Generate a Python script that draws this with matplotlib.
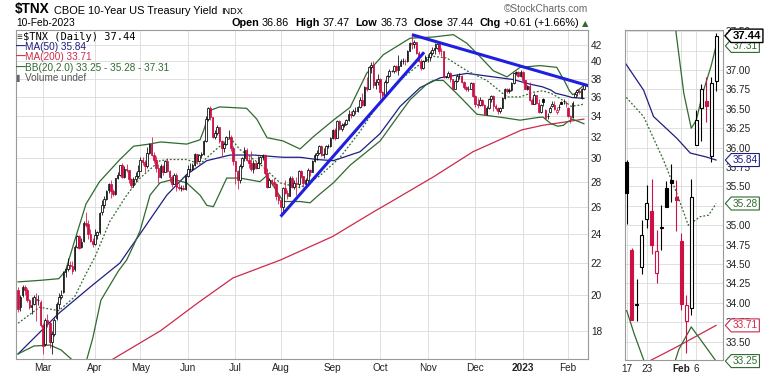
import numpy as np
import pandas as pd
import matplotlib
matplotlib.use("Agg")
import matplotlib.pyplot as plt
from matplotlib.path import Path
from matplotlib.ticker import NullLocator, NullFormatter

plt.rcParams['font.family'] = ['Liberation Sans', 'DejaVu Sans']

# trading calendar, $TNX daily, 11-Feb-2022 .. 10-Feb-2023
holidays = ['2022-02-21', '2022-04-15', '2022-05-30', '2022-06-20', '2022-07-04',
            '2022-09-05', '2022-11-24', '2022-12-26', '2023-01-02', '2023-01-16']
dates = pd.bdate_range('2022-02-11', '2023-02-10')
dates = dates[~dates.isin(pd.to_datetime(holidays))]

prev_close = 20.3  # close of 10-Feb-2022

opens = [
    20.3, 19.3, 20.0, 20.5, 20.3, 19.7, 19.3, 19.5, 19.8, 19.7, 19.6,
    18.3, 17.3, 18.6, 18.4, 17.4, 17.8, 18.7, 19.5, 19.9, 20.2, 21.4, 21.6, 21.9, 21.8, 21.6, 23.1, 23.8, 23.1, 23.5, 24.8, 24.7, 24.0, 23.5,
    23.3, 23.9, 24.1, 25.6, 26.1, 26.6, 27.3, 27.8, 27.2, 27.0, 28.3, 28.6, 29.4, 28.4, 29.1, 29.0, 28.2, 27.7, 28.2, 28.5,
    28.9, 29.9, 29.7, 29.3, 30.5, 31.3, 30.3, 29.9, 29.2, 28.4, 29.3, 28.8, 29.8, 28.9, 28.4, 27.8, 28.6, 27.6, 27.5, 27.5, 27.4,
    28.5, 29.1, 29.1, 29.4, 30.4, 29.8, 30.3, 30.4, 31.6, 33.7, 34.8, 33.9, 32.0, 32.3, 32.9, 31.6, 30.9, 31.3, 32.0, 32.0, 30.9,
    29.8, 28.9, 28.1, 29.3, 30.0, 30.8, 29.9, 29.6, 29.1, 29.6, 29.2, 29.6, 30.1, 30.3, 28.7, 27.6, 28.1, 28.0, 27.8, 26.8,
    26.5, 26.0, 27.5, 27.1, 26.8, 28.3, 27.6, 27.9, 27.8, 28.9, 28.5, 27.9, 28.1, 29.0, 28.8, 29.8, 30.3, 30.5, 31.1, 30.3, 30.4, 31.1, 31.1,
    31.9, 32.6, 31.9, 33.5, 32.7, 33.1, 33.2, 33.6, 34.2, 34.1, 34.5, 34.5, 34.9, 35.7, 35.1, 37.1, 36.9, 39.3, 39.6, 37.3, 37.6,
    38.0, 36.5, 36.2, 37.6, 38.3, 38.9, 38.9, 39.4, 39.0, 39.5, 40.1, 40.1, 40.0, 41.3, 42.3, 42.1, 42.4, 41.0, 40.1, 39.2, 40.1,
    40.5, 40.5, 41.0, 41.4, 41.6, 42.1, 41.3, 41.2, 38.2, 38.2, 38.7, 38.0, 36.9, 37.7, 38.3, 38.3, 37.6, 37.1, 36.8, 36.9, 37.5,
    36.1, 35.3, 35.1, 35.7, 35.1, 34.2, 34.8, 35.8, 36.1, 35.0, 34.8, 34.5, 34.8, 35.9, 36.9, 36.6, 36.7, 37.5, 38.6, 38.8, 38.3,
    38.8, 37.9, 36.9, 37.2, 35.7, 35.3, 36.2, 35.4, 34.4, 35.82, 34.68, 33.97, 34.46, 35.08, 35.18, 34.38, 34.96, 35.48, 35.58, 35.36,
    34.80, 33.76, 33.94, 36.03, 36.51, 36.60, 35.89, 36.86,
]
highs = [
    20.5, 20.0, 20.6, 20.6, 20.4, 19.8, 19.9, 20.0, 20.1, 20.0, 19.7,
    18.4, 18.7, 18.9, 18.5, 18.0, 18.7, 19.6, 20.1, 20.3, 21.5, 21.7, 22.3, 22.1, 22.1, 23.2, 23.9, 23.9, 23.7, 24.9, 25.6, 25.0, 24.3, 23.7,
    24.3, 24.2, 25.6, 26.5, 26.8, 27.3, 27.9, 28.1, 27.4, 28.3, 28.8, 29.4, 29.6, 29.3, 29.5, 29.0, 28.3, 28.4, 28.8, 29.4,
    30.1, 30.1, 29.9, 31.0, 31.4, 32.0, 30.6, 30.2, 29.5, 29.5, 29.4, 29.9, 30.0, 29.0, 28.6, 28.7, 28.7, 27.9, 27.7, 27.7, 28.6,
    29.4, 29.6, 29.6, 30.5, 30.4, 30.4, 30.6, 31.7, 34.0, 34.9, 35.0, 33.9, 32.6, 33.1, 32.9, 31.7, 31.5, 32.1, 32.6, 32.2, 31.1,
    29.8, 29.0, 29.5, 30.1, 31.0, 30.9, 30.1, 30.7, 29.9, 29.8, 30.2, 30.2, 30.4, 30.4, 29.2, 28.3, 28.2, 28.3, 27.9, 27.0,
    26.6, 27.6, 28.1, 27.3, 28.5, 28.5, 28.1, 28.4, 29.0, 29.0, 28.5, 28.3, 29.2, 29.1, 29.9, 30.5, 30.8, 31.2, 31.2, 30.9, 31.2, 31.3, 32.0,
    32.7, 32.8, 33.6, 33.6, 33.3, 33.4, 33.7, 34.6, 34.5, 34.7, 34.9, 35.0, 36.0, 36.4, 37.2, 38.2, 39.5, 39.9, 40.1, 38.0, 38.5,
    38.1, 36.6, 37.8, 38.4, 39.1, 39.0, 39.6, 39.6, 40.8, 40.3, 40.4, 40.3, 41.4, 42.4, 43.3, 42.6, 42.4, 41.2, 40.3, 40.2, 40.8,
    40.9, 41.2, 41.8, 42.2, 42.3, 42.2, 41.6, 41.2, 38.3, 38.9, 38.8, 38.0, 37.9, 38.5, 38.6, 38.4, 37.7, 37.2, 37.2, 37.6, 37.6,
    36.2, 35.9, 36.0, 35.8, 35.2, 35.0, 35.9, 36.2, 36.2, 35.2, 34.9, 34.9, 36.0, 37.0, 37.0, 37.0, 37.6, 38.7, 38.9, 38.9, 39.0,
    38.9, 37.9, 37.3, 37.6, 35.9, 36.4, 36.2, 35.8, 35.2, 35.84, 34.71, 34.31, 35.07, 35.52, 35.60, 34.94, 35.26, 35.57, 35.79, 35.58,
    34.90, 34.10, 35.59, 36.48, 36.82, 36.91, 36.91, 37.47,
]
lows = [
    19.0, 19.1, 19.9, 20.0, 19.6, 19.2, 18.9, 19.4, 18.5, 19.4, 18.2,
    16.8, 17.2, 18.2, 17.1, 16.8, 17.7, 18.6, 19.2, 19.8, 20.1, 21.1, 21.5, 21.6, 21.3, 21.5, 23.0, 22.9, 23.0, 23.4, 24.5, 23.6, 23.4, 23.1,
    23.2, 23.6, 24.0, 25.4, 25.9, 26.5, 27.1, 26.7, 26.8, 26.9, 28.2, 28.5, 28.3, 28.3, 28.8, 27.9, 27.5, 27.6, 28.0, 28.3,
    28.9, 29.4, 28.8, 29.2, 30.4, 30.2, 29.6, 28.8, 27.9, 28.3, 28.6, 28.8, 28.8, 28.0, 27.6, 27.8, 27.2, 27.3, 27.2, 27.3, 27.3,
    28.4, 28.9, 29.0, 29.3, 29.5, 29.7, 30.0, 30.3, 31.5, 33.5, 33.6, 31.9, 31.8, 32.2, 31.4, 30.2, 30.6, 31.2, 31.8, 30.7, 29.4,
    27.8, 27.4, 27.9, 29.2, 29.8, 29.8, 29.2, 28.9, 28.7, 29.1, 29.2, 29.5, 29.9, 28.6, 27.5, 27.6, 27.7, 27.6, 26.5, 26.2,
    25.2, 25.6, 27.0, 26.6, 26.8, 27.5, 27.4, 26.9, 27.6, 28.3, 27.6, 27.7, 28.0, 28.5, 28.8, 29.7, 29.9, 30.4, 30.2, 30.0, 30.4, 30.9, 31.0,
    31.8, 31.7, 31.9, 32.6, 32.5, 32.9, 33.1, 33.5, 33.8, 34.0, 34.2, 34.4, 34.8, 35.0, 35.0, 36.6, 36.8, 38.6, 37.0, 36.9, 37.3,
    35.8, 35.6, 36.1, 37.5, 38.2, 38.8, 38.7, 38.8, 38.4, 39.4, 39.7, 39.6, 39.9, 41.2, 41.5, 41.6, 40.9, 39.9, 39.0, 39.1, 40.0,
    39.9, 40.1, 40.8, 40.9, 41.5, 40.9, 40.6, 38.1, 38.1, 38.1, 37.6, 36.8, 36.8, 37.6, 38.0, 37.5, 36.9, 36.6, 36.6, 36.8, 36.0,
    34.9, 34.8, 35.0, 35.0, 34.1, 34.1, 34.7, 35.5, 34.5, 34.6, 34.2, 34.3, 34.8, 35.8, 36.4, 36.4, 36.6, 37.4, 38.4, 38.2, 38.2,
    37.5, 36.8, 36.7, 35.6, 35.2, 35.2, 35.3, 34.3, 34.3, 35.02, 33.78, 33.76, 34.37, 34.97, 34.63, 34.25, 34.68, 35.23, 35.30, 34.93,
    33.91, 33.35, 33.84, 36.03, 36.08, 36.33, 35.81, 36.73,
]
closes = [
    19.2, 19.9, 20.5, 20.3, 19.7, 19.3, 19.4, 19.9, 19.7, 19.7, 18.3,
    17.2, 18.6, 18.4, 17.4, 17.8, 18.6, 19.5, 19.9, 20.0, 21.4, 21.6, 21.9, 21.8, 21.5, 23.1, 23.8, 23.0, 23.4, 24.8, 24.6, 24.0, 23.5, 23.3,
    23.9, 24.1, 25.5, 26.1, 26.6, 27.2, 27.8, 27.2, 27.0, 28.3, 28.6, 29.4, 28.4, 29.1, 29.0, 28.2, 27.7, 28.2, 28.5, 28.9,
    29.9, 29.7, 29.3, 30.5, 31.3, 30.3, 29.9, 29.2, 28.4, 29.3, 28.8, 29.8, 28.9, 28.4, 27.8, 28.6, 27.6, 27.5, 27.5, 27.4, 28.5,
    29.1, 29.1, 29.4, 30.4, 29.8, 30.3, 30.4, 31.6, 33.7, 34.8, 33.9, 32.0, 32.3, 32.9, 31.6, 30.9, 31.3, 32.0, 32.0, 30.9, 29.8,
    28.9, 28.1, 29.3, 30.0, 30.8, 29.9, 29.6, 29.1, 29.6, 29.2, 29.6, 30.1, 30.3, 28.7, 27.6, 28.1, 28.0, 27.8, 26.8, 26.5,
    26.0, 27.5, 27.1, 26.8, 28.3, 27.6, 27.9, 27.8, 28.9, 28.5, 27.9, 28.1, 29.0, 28.8, 29.8, 30.3, 30.5, 31.1, 30.3, 30.4, 31.1, 31.1, 31.9,
    32.6, 31.9, 33.5, 32.7, 33.1, 33.2, 33.6, 34.2, 34.1, 34.5, 34.5, 34.9, 35.7, 35.1, 37.1, 36.9, 39.3, 39.6, 37.3, 37.6, 38.0,
    36.5, 36.2, 37.6, 38.3, 38.9, 38.9, 39.4, 39.0, 39.5, 40.1, 40.1, 40.0, 41.3, 42.3, 42.1, 42.4, 41.0, 40.1, 39.2, 40.1, 40.5,
    40.5, 41.0, 41.4, 41.6, 42.1, 41.3, 41.2, 38.2, 38.2, 38.7, 38.0, 36.9, 37.7, 38.3, 38.3, 37.6, 37.1, 36.8, 36.9, 37.5, 36.1,
    35.3, 35.1, 35.7, 35.1, 34.2, 34.8, 35.8, 36.1, 35.0, 34.8, 34.5, 34.8, 35.9, 36.9, 36.6, 36.7, 37.5, 38.6, 38.8, 38.3, 38.8,
    37.9, 36.9, 37.2, 35.7, 35.3, 36.2, 35.4, 34.4, 35.1, 35.41, 33.78, 33.99, 34.88, 35.29, 34.74, 34.67, 34.98, 35.23, 35.55, 35.33,
    33.99, 33.97, 35.37, 36.36, 36.75, 36.54, 36.83, 37.44,
]

# indicator lines (trading-day number, value)
ma50_day = [0, 9.5, 18, 32, 45, 54, 65.7, 74.5, 83.4, 93.7, 104, 117, 124.6, 132, 139.3, 151.1, 160, 168.8,
            177.6, 186.5, 198.3, 207.1, 218.8, 226, 231.7, 235.4, 237.4, 242.1, 244.8, 248, 250]
ma50_val = [16.8, 17.9, 18.95, 20.5, 22.0, 24.0, 26.9, 28.6, 29.8, 30.3, 30.3, 30.1, 30.1, 29.9, 29.8, 30.6, 32.3, 35.0,
            37.0, 38.1, 38.6, 38.3, 37.9, 37.4, 37.09, 36.74, 36.40, 36.12, 35.93, 35.88, 35.84]
ma200_day = [0, 20, 42, 63, 80, 95, 116, 139, 158, 164, 183.5, 201, 222.6, 232, 242, 250]
ma200_val = [14.8, 15.6, 16.55, 18.0, 19.6, 21.05, 22.2, 23.8, 25.7, 26.3, 28.4, 30.6, 32.65, 33.1, 33.43, 33.71]
bb_up_day = [0, 10, 18, 21, 25, 30, 36, 45, 51, 58, 63, 74.5, 80.4, 82, 85, 89, 101, 105.5, 110, 117, 124.6,
             130.5, 139.3, 146.7, 154, 161.4, 173.2, 183.5, 192.3, 198.3, 204, 210, 216, 221.8, 230.6, 238,
             241.7, 243.5, 245, 246, 247.4, 249, 250]
bb_up_val = [20.8, 20.9, 21.0, 21.5, 23.5, 26.2, 28.0, 29.9, 31.1, 31.3, 31.5, 31.3, 31.7, 32.6, 34.6, 34.95, 34.8, 33.7, 31.9, 31.6, 30.85,
             32.0, 33.6, 34.9, 38.6, 40.8, 42.85, 43.0, 43.3, 42.2, 40.6, 38.9, 38.2, 39.3, 39.5, 39.3,
             37.6, 36.7, 36.25, 36.35, 36.72, 37.05, 37.31]
bb_mid_day = [0, 9.5, 18, 25, 30, 34, 40.6, 48, 53.9, 62.7, 67, 74.5, 80.4, 86.3, 93.7, 98, 106.9, 115.8, 124.6,
              133.4, 142.3, 151.1, 158.5, 167, 176.2, 183.5, 189.4, 198.3, 207.1, 216, 221.8, 227.7, 231.7,
              235.4, 239.4, 242.1, 244.4, 246.8, 248.5, 250]
bb_mid_val = [18.4, 19.3, 19.1, 19.9, 21.3, 22.4, 24.9, 26.9, 28.3, 29.8, 29.9, 29.9, 29.5, 30.6, 31.9, 30.8, 29.5, 27.9, 27.5,
              28.5, 30.1, 32.5, 35.0, 37.5, 39.4, 40.6, 40.4, 38.9, 37.8, 36.0, 36.0, 36.5, 36.66,
              36.40, 35.84, 35.41, 35.00, 35.11, 35.13, 35.28]
bb_lo_day = [0, 7, 14, 19, 24, 27, 30.3, 33, 36.6, 44.4, 48, 51.4, 53.9, 58.3, 62.7, 68.6, 74.5, 80.4, 83.4, 86.3,
             89.2, 92.2, 98, 106.9, 109.9, 117.2, 124.6, 129, 133.4, 139.3, 146.7, 160, 168.8, 173.2, 180.6,
             183.5, 187.9, 195.3, 202.7, 213, 221.8, 230.6, 232, 233.5, 235.5, 238.5, 241, 242.5, 245, 247.4, 250]
bb_lo_val = [16.8, 17.2, 17.25, 17.0, 16.5, 16.2, 16.5, 17.6, 19.7, 21.5, 22.2, 23.3, 24.2, 26.9, 27.9, 28.2, 27.9, 26.9, 26.1, 26.0,
             27.1, 28.3, 28.3, 28.0, 28.5, 26.4, 26.4, 26.3, 27.0, 27.9, 29.4, 31.6, 34.3, 35.7, 37.4,
             37.8, 37.8, 36.0, 34.2, 33.9, 33.6, 33.9, 33.9, 33.6, 33.25, 33.0, 33.1, 33.4, 33.69, 33.48, 33.25]

# hand-drawn trendlines
trend_up_day = [116, 179.4]
trend_up_val = [25.25, 41.1]
trend_dn_day = [174, 252.3]
trend_dn_val = [43.3, 37.19]

zoom_ticks = ['2023-01-17', '2023-01-23', '2023-02-01', '2023-02-06']

RED = '#cc1144'
NAVY = '#1e1e82'
MARED = '#cc2a4a'
GREEN = '#2f6a2f'
BLUE = '#1f1fe0'
GRID = '#dadada'
SPINE = '#9a9a9a'

o = np.array(opens)
h = np.array(highs)
l = np.array(lows)
c = np.array(closes)
x = np.arange(len(c))
prev = np.r_[prev_close, c[:-1]]
col = np.where(c >= prev, 'black', RED)
face = np.where(c > o, 'white', col)

W, H = 770, 376
fig = plt.figure(figsize=(W / 100, H / 100), dpi=100)
ax = fig.add_axes([16 / W, 1 - 359 / H, 572 / W, 329 / H])
axr = fig.add_axes([625 / W, 1 - 360 / H, 98 / W, 330 / H])


def draw(a, width, lw):
    a.plot(ma200_day, ma200_val, color=MARED, lw=0.9, zorder=2)
    a.plot(ma50_day, ma50_val, color=NAVY, lw=0.9, zorder=2)
    a.plot(bb_up_day, bb_up_val, color=GREEN, lw=0.9, zorder=2)
    a.plot(bb_lo_day, bb_lo_val, color=GREEN, lw=0.9, zorder=2)
    a.plot(bb_mid_day, bb_mid_val, color=GREEN, lw=0.9, ls=(0, (1.5, 1.5)), zorder=2)
    a.vlines(x, l, h, colors=col, lw=lw, zorder=3)
    a.bar(x, np.abs(c - o), bottom=np.minimum(o, c), width=width, color=face,
          edgecolor=col, linewidth=lw, zorder=4)
    a.grid(True, color=GRID, lw=0.6)
    a.set_axisbelow(True)
    for s in a.spines.values():
        s.set_color(SPINE)
        s.set_linewidth(0.8)
    a.yaxis.tick_right()
    a.tick_params(length=0, labelsize=7.2, pad=2, colors='#222222')


draw(ax, 0.7, 0.55)
draw(axr, 0.62, 0.8)

ax.plot(trend_up_day, trend_up_val, color=BLUE, lw=2.2, zorder=5, solid_capstyle='butt')
ax.plot(trend_dn_day, trend_dn_val, color=BLUE, lw=2.2, zorder=5, solid_capstyle='butt')

# main panel axes
ax.set_yscale('log')
yt = list(range(18, 43, 2))
ax.set_yticks(yt, labels=[str(v) for v in yt])
ax.yaxis.set_minor_locator(NullLocator())
ax.yaxis.set_minor_formatter(NullFormatter())
ax.set_ylim(16.55, 43.9)
ax.set_xlim(-0.9, 251.8)
m = dates.month.values
first = np.flatnonzero(np.r_[True, m[1:] != m[:-1]])[1:]
labs = ['2023' if dates[i].month == 1 else dates[i].strftime('%b') for i in first]
ax.set_xticks(first, labels=labs)
ax.tick_params(axis='x', pad=3)
for t in ax.get_xticklabels():
    if t.get_text() == '2023':
        t.set_fontweight('bold')

# zoom panel axes
zi = dates.get_indexer(pd.to_datetime(zoom_ticks))
zl = [dates[i].strftime('%b') if i in first else str(dates[i].day) for i in zi]
axr.set_xticks(zi, labels=zl)
axr.tick_params(axis='x', pad=3)
for t in axr.get_xticklabels():
    if t.get_text() == 'Feb':
        t.set_fontweight('bold')
ryt = np.arange(33.25, 37.51, 0.25)
# labels hidden behind the value tags are left blank
covered = [37.25, 35.25, 33.25]
axr.set_yticks(ryt, labels=['' if any(abs(v - cv) < 1e-6 for cv in covered) else f'{v:.2f}'
                            for v in ryt])
axr.set_xlim(231.65, 251.4)
axr.set_ylim(33.264, 37.515)


def tag_box(x0, y0, width, height, mutation_size):
    pad = 0.15 * mutation_size
    x0, y0 = x0 - pad, y0 - pad
    width, height = width + 2 * pad, height + 2 * pad
    tip = height * 0.45
    return Path([(x0 - tip, y0 + height / 2), (x0, y0), (x0 + width, y0),
                 (x0 + width, y0 + height), (x0, y0 + height), (x0 - tip, y0 + height / 2)],
                closed=True)


tags = [(bb_lo_val[-1], GREEN, False), (ma200_val[-1], MARED, False), (bb_mid_val[-1], GREEN, False),
        (ma50_val[-1], NAVY, False), (bb_up_val[-1], GREEN, False), (c[-1], 'black', True)]
for v, tc, bold in tags:
    axr.annotate(f'{v:.2f}', xy=(1, v), xycoords=axr.get_yaxis_transform(),
                 xytext=(7, 0), textcoords='offset points', ha='left', va='center',
                 fontsize=8.2 if bold else 7.2, fontweight='bold' if bold else 'normal',
                 color=tc, annotation_clip=False, zorder=10,
                 bbox=dict(boxstyle=tag_box, fc='white', ec=tc, lw=1.0 if bold else 0.8))

rend = fig.canvas.get_renderer()

# header: symbol, name, exchange laid out left to right
xp = 15
for s, fs, bold, gap in [('$TNX', 9.8, True, 4), ('CBOE 10-Year US Treasury Yield', 7.9, False, 4),
                         ('INDX', 6.6, False, 0)]:
    t = fig.text(xp / W, 1 - 13.5 / H, s, fontsize=fs, fontweight='bold' if bold else 'normal',
                 va='baseline')
    xp += t.get_window_extent(rend).width + gap
fig.text(16 / W, 1 - 26 / H, dates[-1].strftime('%d-%b-%Y'), fontsize=7.4, va='baseline')
fig.text(588 / W, 1 - 12.5 / H, '\u00a9StockCharts.com', fontsize=7.3, color='#666666',
         ha='right', va='baseline')

chg = c[-1] - c[-2]
pieces = [('Open', True, 3), (f'{o[-1]:.2f}', False, 6), ('High', True, 3), (f'{h[-1]:.2f}', False, 6),
          ('Low', True, 3), (f'{l[-1]:.2f}', False, 6), ('Close', True, 3), (f'{c[-1]:.2f}', False, 6),
          ('Chg', True, 3), (f'{chg:+.2f} ({chg / c[-2] * 100:+.2f}%)', False, 3),
          ('\u25b2', False, 0)]
texts = []
total = 0
for s, bold, gap in pieces:
    t = fig.text(0, 1 - 26 / H, s, fontsize=7.8, va='baseline',
                 fontweight='bold' if bold else 'normal',
                 family=['DejaVu Sans'] if s == '\u25b2' else ['Liberation Sans', 'DejaVu Sans'],
                 color='#2f6a2f' if s == '\u25b2' else 'black')
    if s == '\u25b2':
        t.set_fontsize(6)
    w = t.get_window_extent(rend).width
    texts.append((t, w, gap))
    total += w + gap
xp = 588 - total
for t, w, gap in texts:
    t.set_x(xp / W)
    xp += w + gap

# legend block
fig.text(16.5 / W, 1 - 36.7 / H, '\u2261', fontsize=7, va='center', color='#333333')
fig.text(23 / W, 1 - 36.7 / H, f'$TNX (Daily) {c[-1]:.2f}', fontsize=7.5, va='center',
         family=['DejaVu Sans Mono'])
leg = [(f'MA(50) {ma50_val[-1]:.2f}', NAVY, 46.7),
       (f'MA(200) {ma200_val[-1]:.2f}', MARED, 57.2),
       (f'BB(20,2.0) {bb_lo_val[-1]:.2f} - {bb_mid_val[-1]:.2f} - {bb_up_val[-1]:.2f}', GREEN, 67.7),
       ('Volume undef', '#555555', 78.3)]
for s, lc, yy in leg:
    if s.startswith('Volume'):
        fig.text(16.5 / W, 1 - yy / H, '\u258c', fontsize=5, va='center', color='#666666',
                 family=['DejaVu Sans'])
    else:
        fig.text(16.5 / W, 1 - yy / H, '\u2014', fontsize=7, fontweight='bold', va='center', color=lc)
    fig.text(25.5 / W, 1 - yy / H, s, fontsize=7.2, va='center', color=lc)

fig.savefig('out.png', dpi=100)
